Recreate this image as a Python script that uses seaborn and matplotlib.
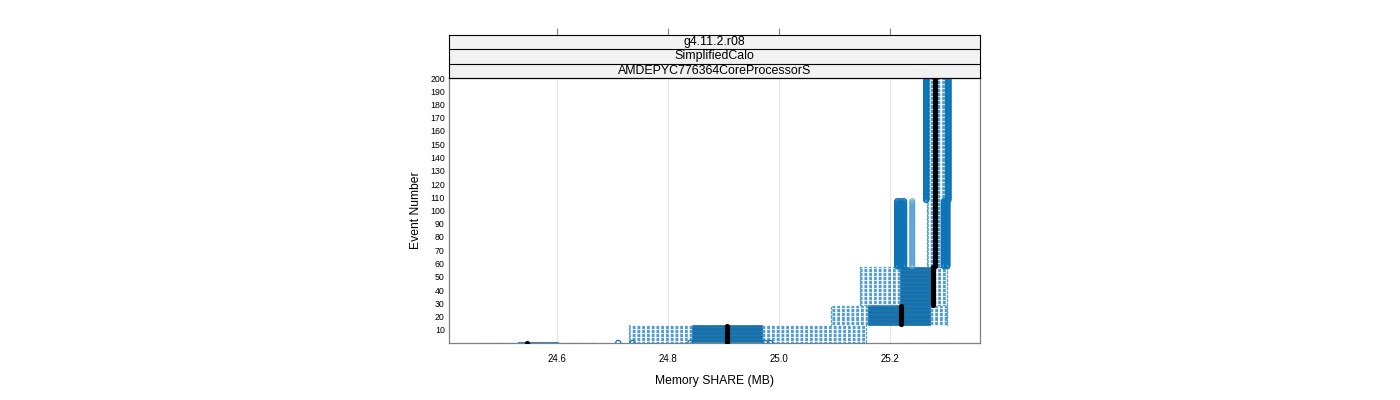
import numpy as np
import pandas as pd
import matplotlib
matplotlib.use("Agg")
import matplotlib.pyplot as plt
import matplotlib.transforms as mtransforms
import seaborn as sns

# ---- data ----
seg_first = [0, 1, 14, 29, 58, 108]
seg_last = [0, 13, 28, 57, 107, 200]
whisk_lo = [24.461, 24.729, 25.093, 25.146, 25.266, 25.270]
q1 = [24.530, 24.843, 25.161, 25.218, 25.277, 25.277]
median = [24.546, 24.906, 25.219, 25.277, 25.281, 25.281]
q3 = [24.602, 24.970, 25.272, 25.274, 25.285, 25.285]
whisk_hi = [24.672, 25.156, 25.302, 25.302, 25.292, 25.300]
outliers = [
    [24.710, 24.736, 24.840, 24.906, 24.975, 24.984],
    [],
    [],
    [],
    [25.213, 25.219, 25.225, 25.297, 25.303],
    [25.265, 25.305],
]
faint_outliers = [[], [], [], [], [25.240], []]
x_ticks = [24.6, 24.8, 25.0, 25.2]
y_ticks = list(range(10, 201, 10))
strip_labels = ["g4.11.2.r08", "SimplifiedCalo", "AMDEPYC776364CoreProcessorS"]

# ---- build long-form tables ----
rows, med_rows, out_rows, faint_rows = [], [], [], []
for i in range(len(seg_first)):
    for ev in range(seg_first[i], seg_last[i] + 1):
        for v in (whisk_lo[i], q1[i], median[i], q3[i], whisk_hi[i]):
            rows.append((ev, v))
        med_rows.append((ev, median[i]))
        for o in outliers[i]:
            out_rows.append((ev, o))
        for o in faint_outliers[i]:
            faint_rows.append((ev, o))
df = pd.DataFrame(rows, columns=["event", "mem"])
dmed = pd.DataFrame(med_rows, columns=["event", "mem"])
dout = pd.DataFrame(out_rows, columns=["event", "mem"])
dfaint = pd.DataFrame(faint_rows, columns=["event", "mem"])

sns.set_style("white")
plt.rcParams["font.family"] = ["Liberation Sans", "DejaVu Sans"]
plt.rcParams["text.color"] = "black"
plt.rcParams["axes.labelcolor"] = "black"
plt.rcParams["xtick.color"] = "black"
plt.rcParams["ytick.color"] = "black"

fig = plt.figure(figsize=(14, 4), dpi=100)
ax = fig.add_axes([449 / 1400, 57 / 400, 531 / 1400, 265 / 400])

dark = "#0c74b6"
light = "#4f9dd4"

for xv in x_ticks:
    ax.axvline(xv, color="#e6e6e6", lw=0.8, zorder=0)

sns.boxplot(
    data=df, x="mem", y="event", orient="y", native_scale=True,
    width=1.0, whis=(0, 100), showfliers=False, ax=ax,
    color="#1479bb", linecolor="#0b6eae", linewidth=0.5,
    whiskerprops=dict(color=light, linestyle=(0, (2.2, 1.6)), linewidth=0.9),
    capprops=dict(color=light, linewidth=0.9),
    medianprops=dict(visible=False),
    showcaps=True,
)
sns.scatterplot(data=dfaint, x="mem", y="event", ax=ax, marker="o",
                facecolor="none", edgecolor="#5aa3d6", linewidth=0.7, s=12,
                legend=False, zorder=5)
sns.scatterplot(data=dout, x="mem", y="event", ax=ax, marker="o",
                facecolor="none", edgecolor=dark, linewidth=0.9, s=14,
                legend=False, zorder=5)
sns.scatterplot(data=dmed, x="mem", y="event", ax=ax, marker="o",
                color="black", edgecolor="black", linewidth=0, s=14,
                legend=False, zorder=6)

ax.set_xlim(24.405, 25.362)
ax.set_ylim(0, 200)
ax.set_xticks(x_ticks)
ax.set_xticklabels([f"{v:.1f}" for v in x_ticks])
ax.set_yticks(y_ticks)
ax.set_yticklabels([str(v) for v in y_ticks])
ax.tick_params(axis="x", length=5, width=0.8, color="#808080", labelsize=7, pad=3,
               labelcolor="black")
ax.tick_params(axis="y", length=0, labelsize=6.3, pad=3, labelcolor="black")
ax.set_xlabel("Memory SHARE (MB)", fontsize=8.7, labelpad=8, color="black")
ax.set_ylabel("Event Number", fontsize=8.7, labelpad=6, color="black")
for s in ax.spines.values():
    s.set_color("#808080")
    s.set_linewidth(0.9)

# ---- strips ----
sax = fig.add_axes([449 / 1400, 322 / 400, 531 / 1400, 43 / 400], sharex=ax)
sax.set_ylim(0, 3)
trans = mtransforms.blended_transform_factory(sax.transAxes, sax.transData)
for k, lab in enumerate(strip_labels):
    yb = 2 - k
    sax.axhspan(yb, yb + 1, facecolor="#f2f2f2", edgecolor="none", zorder=0)
    sax.axhline(yb, color="black", lw=0.8, zorder=2)
    sax.text(0.5, yb + 0.5, lab, transform=trans, ha="center", va="center",
             fontsize=8.9, color="black", zorder=3)
sax.set_yticks([])
sax.tick_params(axis="x", bottom=False, labelbottom=False, top=True, labeltop=False,
                length=5, width=0.8, color="#808080", direction="out")
for s in sax.spines.values():
    s.set_color("black")
    s.set_linewidth(0.8)
sax.grid(False)

fig.savefig("out.png", dpi=100)
